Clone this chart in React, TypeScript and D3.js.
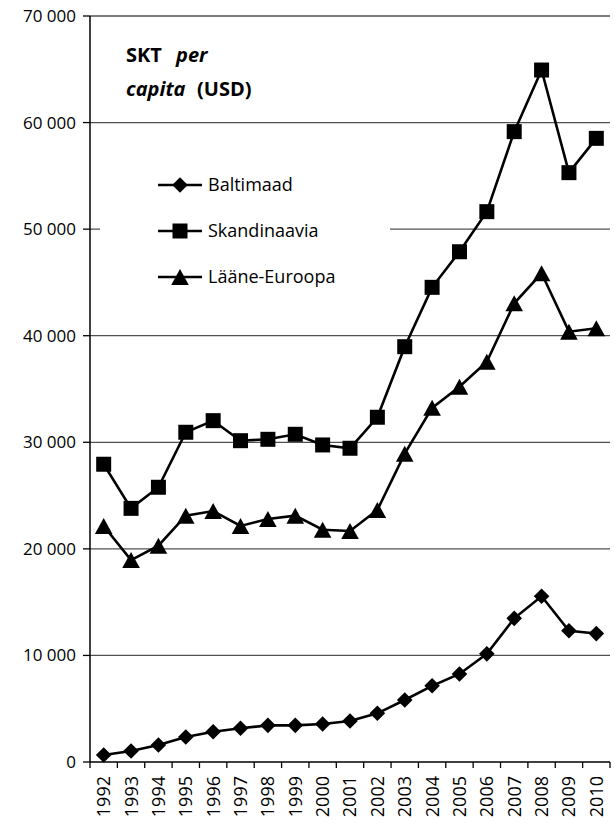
import React from "react";
import * as d3 from "d3";

const years = ["1992","1993","1994","1995","1996","1997","1998","1999","2000","2001","2002","2003","2004","2005","2006","2007","2008","2009","2010"];
const baltimaad = [650, 1030, 1600, 2350, 2840, 3160, 3440, 3440, 3570, 3850, 4570, 5820, 7150, 8260, 10150, 13480, 15550, 12320, 12050];
const skandinaavia = [27940, 23800, 25780, 30940, 32030, 30150, 30280, 30750, 29750, 29440, 32350, 38970, 44540, 47880, 51640, 59150, 64930, 55300, 58520];
const laaneEuroopa = [22150, 18950, 20300, 23110, 23550, 22150, 22800, 23110, 21800, 21680, 23650, 28930, 33230, 35220, 37560, 43040, 45860, 40380, 40700];
const yTicks = [0, 10000, 20000, 30000, 40000, 50000, 60000, 70000];
const seriesNames = ["Baltimaad", "Skandinaavia", "Lääne-Euroopa"];
const markerTypes = ["diamond", "square", "triangle"];

const FONT = "'Open Sans', 'DejaVu Sans', sans-serif";

function markerPath(type: string, cx: number, cy: number): string {
  if (type === "diamond") {
    const r = 7.8;
    return `M${cx},${cy - r}L${cx + r},${cy}L${cx},${cy + r}L${cx - r},${cy}Z`;
  }
  if (type === "square") {
    const h = 7.5;
    return `M${cx - h},${cy - h}L${cx + h},${cy - h}L${cx + h},${cy + h}L${cx - h},${cy + h}Z`;
  }
  const w = 8.8, hh = 8;
  return `M${cx},${cy - hh}L${cx + w},${cy + hh}L${cx - w},${cy + hh}Z`;
}

export default function App() {
  const x = d3.scaleBand<string>().domain(years).range([90, 610]);
  const y = d3.scaleLinear().domain([0, 70000]).range([762, 16]);
  const cx = (yr: string) => (x(yr) as number) + x.bandwidth() / 2;
  const line = d3
    .line<number>()
    .x((_, i) => cx(years[i]))
    .y((d) => y(d));
  const series = [baltimaad, skandinaavia, laaneEuroopa];

  const legendRows = [185, 231, 277];

  return (
    <svg
      width={614}
      height={819}
      style={{ position: "absolute", left: 0, top: 0, background: "#fff" }}
      fontFamily={FONT}
    >
      <rect x={0} y={0} width={614} height={819} fill="#fff" />
      {/* gridlines */}
      {yTicks.filter((t) => t > 0).map((t) => (
        <line key={t} x1={90} x2={610} y1={y(t)} y2={y(t)} stroke="#505050" strokeWidth={1.3} />
      ))}
      {/* y tick marks and labels */}
      {yTicks.map((t) => (
        <g key={"yt" + t}>
          <line x1={83} x2={90} y1={y(t)} y2={y(t)} stroke="#000" strokeWidth={1.3} />
          <text x={76} y={y(t)} dy="0.35em" textAnchor="end" fontSize={17} fill="#000">
            {d3.format(",")(t).replace(/,/g, " ")}
          </text>
        </g>
      ))}
      {/* axes */}
      <line x1={90} x2={90} y1={16} y2={762} stroke="#000" strokeWidth={1.5} />
      <line x1={90} x2={610} y1={762} y2={762} stroke="#000" strokeWidth={1.5} />
      {years.map((yr, i) => (
        <line key={"xt" + yr} x1={90 + i * x.step()} x2={90 + i * x.step()} y1={762} y2={768} stroke="#000" strokeWidth={1.3} />
      ))}
      <line x1={610} x2={610} y1={762} y2={768} stroke="#000" strokeWidth={1.3} />
      {years.map((yr) => (
        <text
          key={"xl" + yr}
          transform={`translate(${cx(yr)},776) rotate(-90)`}
          textAnchor="end"
          dy="0.36em"
          fontSize={18}
          fill="#000"
        >
          {yr}
        </text>
      ))}
      {/* legend background */}
      <rect x={100} y={160} width={290} height={140} fill="#fff" />
      {/* series */}
      {series.map((s, si) => (
        <g key={"s" + si}>
          <path d={line(s) || ""} fill="none" stroke="#000" strokeWidth={2.6} />
          {s.map((v, i) => (
            <path key={i} d={markerPath(markerTypes[si], cx(years[i]), y(v))} fill="#000" />
          ))}
        </g>
      ))}
      {/* legend */}
      {seriesNames.map((n, i) => (
        <g key={"lg" + n}>
          <line x1={158} x2={202} y1={legendRows[i]} y2={legendRows[i]} stroke="#000" strokeWidth={2.6} />
          <path d={markerPath(markerTypes[i], 180, legendRows[i])} fill="#000" />
          <text x={208} y={legendRows[i]} dy="0.35em" fontSize={18} fill="#000">
            {n}
          </text>
        </g>
      ))}
      {/* title */}
      <text x={126} y={62} fontSize={20} fontWeight="bold" fill="#000">SKT</text>
      <text x={176} y={62} fontSize={20} fontWeight="bold" fontStyle="italic" fill="#000">per</text>
      <text x={126} y={96} fontSize={20} fontWeight="bold" fontStyle="italic" fill="#000">capita</text>
      <text x={197} y={96} fontSize={20} fontWeight="bold" fill="#000">(USD)</text>
    </svg>
  );
}
